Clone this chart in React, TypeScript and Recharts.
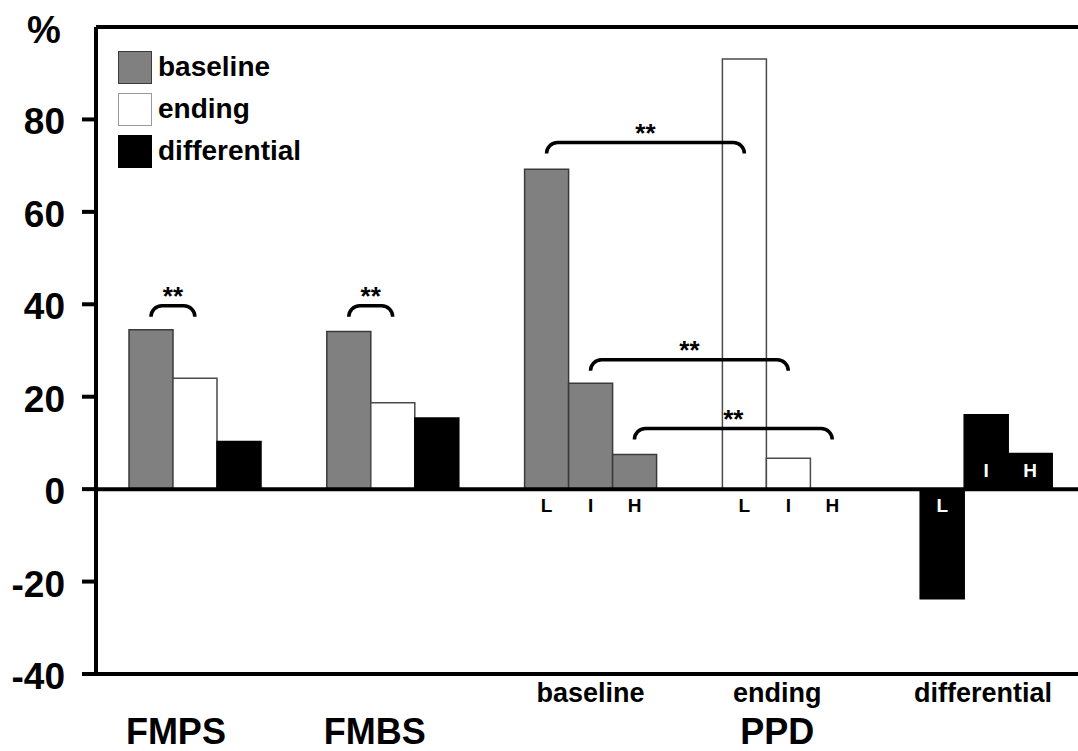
import React from 'react';
import { BarChart, Bar, XAxis, YAxis, Cell, ReferenceLine, LabelList, Legend } from 'recharts';

// one row per x-axis slot; PPD is split into baseline / ending / differential slots
const categories = ['FMPS', 'FMBS', 'PPD baseline', 'PPD ending', 'PPD differential'];
const groupKind = ['split', 'split', 'baseline', 'ending', 'differential'];
const firstBar = [34.5, 34.1, 69.2, 93.1, -23.7];
const secondBar = [24.0, 18.7, 22.9, 6.7, 16.1];
const thirdBar = [10.3, 15.4, 7.5, 0.1, 7.7];
const firstTag = ['', '', 'L', 'L', 'L'];
const secondTag = ['', '', 'I', 'I', 'I'];
const thirdTag = ['', '', 'H', 'H', 'H'];
const upperTick = ['', '', 'baseline', 'ending', 'differential'];
const lowerTick = ['FMPS', 'FMBS', '', 'PPD', ''];
const yTicks = [-40, -20, 0, 20, 40, 60, 80];
const seriesNames = ['baseline', 'ending', 'differential'];

// significance brackets: [slot, bar] -> [slot, bar] at height y (%)
const brackets = [
  { from: [0, 0], to: [0, 1], y: 39.7 },
  { from: [1, 0], to: [1, 1], y: 39.7 },
  { from: [2, 0], to: [3, 0], y: 75 },
  { from: [2, 1], to: [3, 1], y: 28 },
  { from: [2, 2], to: [3, 2], y: 13.1 },
];

const rows = categories.map((name, i) => ({
  name,
  a: firstBar[i],
  b: secondBar[i],
  c: thirdBar[i],
  row: i,
}));

const FONT = '"Liberation Sans", Arial, Helvetica, sans-serif';
const CHART_W = 1085;
const CHART_H = 751;
const AXIS_W = 96;
const GAP = 33;
const BAND = (CHART_W - AXIS_W) / categories.length;
const BAR_W = (BAND - 2 * GAP) / 3;
const TICK_SHIFT = [-19, -18, 0, -11, -3];

const FILL: Record<string, string> = { baseline: '#808080', ending: '#ffffff', differential: '#000000' };
const STROKE: Record<string, string> = { baseline: '#3a3a3a', ending: '#4a4a4a', differential: '#000000' };

const kindOf = (row: number, series: number) =>
  groupKind[row] === 'split' ? seriesNames[series] : groupKind[row];

const CategoryTick = (props: any) => {
  const { x, y, index } = props;
  const cx = x + TICK_SHIFT[index];
  return (
    <g>
      {upperTick[index] && (
        <text x={cx} y={y + 28} textAnchor="middle" fontSize={27} fontWeight="bold" fontFamily={FONT} fill="#000">
          {upperTick[index]}
        </text>
      )}
      {lowerTick[index] && (
        <text x={cx} y={y + 70} textAnchor="middle" fontSize={36} fontWeight="bold" fontFamily={FONT} fill="#000">
          {lowerTick[index]}
        </text>
      )}
    </g>
  );
};

const ValueTick = (props: any) => {
  const { x, y, payload } = props;
  return (
    <text x={x} y={y + 15} textAnchor="end" fontSize={37} fontWeight="bold" fontFamily={FONT} fill="#000">
      {payload.value}
    </text>
  );
};

const tagRenderer = (tags: string[]) => (props: any) => {
  const vb = props.viewBox ?? props;
  const { x, y, width, height } = vb;
  // locate the row from the bar's horizontal position
  const index = Math.floor((x + width / 2 - AXIS_W) / BAND);
  const tag = tags[index];
  if (!tag) return null;
  const value = Number(props.value);
  const zeroY = value < 0 ? Math.min(y, y + height) : Math.max(y, y + height);
  const inside = groupKind[index] === 'differential';
  const ty = inside && value > 0 ? zeroY - 12 : zeroY + 23;
  return (
    <text
      key={`tag-${index}`}
      x={x + width / 2}
      y={ty}
      textAnchor="middle"
      fontSize={19}
      fontWeight="bold"
      fontFamily={FONT}
      fill={inside ? '#fff' : '#000'}
    >
      {tag}
    </text>
  );
};

const Bracket = (props: any) => {
  const { x1, y1, x2, dx1, dx2 } = props;
  const a = x1 + dx1;
  const b = x2 + dx2;
  const r = 11;
  const d = `M${a},${y1 + r} A${r},${r} 0 0 1 ${a + r},${y1} L${b - r},${y1} A${r},${r} 0 0 1 ${b},${y1 + r}`;
  return (
    <g>
      <path d={d} fill="none" stroke="#000" strokeWidth={3.5} />
      <text x={(a + b) / 2} y={y1 - 1} textAnchor="middle" fontSize={26} fontWeight="bold" fontFamily={FONT} fill="#000">
        **
      </text>
    </g>
  );
};

const LegendBox = () => (
  <div style={{ fontFamily: FONT }}>
    {seriesNames.map((name, i) => (
      <div key={name} style={{ display: 'flex', alignItems: 'center', height: 42 }}>
        <span
          style={{
            display: 'inline-block',
            width: 34,
            height: 33,
            boxSizing: 'border-box',
            background: FILL[name],
            border: `1.5px solid ${i === 1 ? '#9a9a9a' : STROKE[name]}`,
          }}
        />
        <span style={{ marginLeft: 6, fontSize: 28, fontWeight: 'bold', color: '#000' }}>{name}</span>
      </div>
    ))}
  </div>
);

const PercentLabel = (props: any) => {
  const vb = props.viewBox || { x: 0, y: 27 };
  return (
    <text x={vb.x + 44} y={vb.y + 16} textAnchor="middle" fontSize={38} fontWeight="bold" fontFamily={FONT} fill="#000">
      %
    </text>
  );
};

export default function App() {
  const keys = ['a', 'b', 'c'];
  const tags = [firstTag, secondTag, thirdTag];
  return (
    <div
      style={{
        position: 'absolute',
        left: 0,
        top: 0,
        width: 1078,
        height: 751,
        overflow: 'hidden',
        background: '#fff',
        fontFamily: FONT,
      }}
    >
      <BarChart
        width={CHART_W}
        height={CHART_H}
        data={rows}
        margin={{ top: 27, right: 0, bottom: 0, left: 0 }}
        barCategoryGap={GAP}
        barGap={0}
      >
        <XAxis
          dataKey="name"
          height={77}
          interval={0}
          tickLine={false}
          tickSize={0}
          tickMargin={0}
          axisLine={{ stroke: '#000', strokeWidth: 4 }}
          tick={<CategoryTick />}
        />
        <YAxis
          width={AXIS_W}
          domain={[-40, 100]}
          ticks={yTicks}
          allowDataOverflow
          tickSize={14}
          tickMargin={17}
          axisLine={{ stroke: '#000', strokeWidth: 4 }}
          tickLine={{ stroke: '#000', strokeWidth: 4 }}
          tick={<ValueTick />}
          label={{ content: <PercentLabel /> }}
        />
        <Legend
          layout="vertical"
          align="center"
          verticalAlign="middle"
          wrapperStyle={{ left: 118, top: 46, width: 260, height: 130 }}
          content={<LegendBox />}
        />
        {keys.map((k, s) => (
          <Bar
            key={k}
            dataKey={k}
            name={seriesNames[s]}
            fill={FILL[seriesNames[s]]}
            stroke={STROKE[seriesNames[s]]}
            strokeWidth={1.5}
            isAnimationActive={false}
          >
            {rows.map((_, i) => (
              <Cell key={`c-${k}-${i}`} fill={FILL[kindOf(i, s)]} stroke={STROKE[kindOf(i, s)]} />
            ))}
            <LabelList dataKey={k} content={tagRenderer(tags[s])} />
          </Bar>
        ))}
        <ReferenceLine y={0} stroke="#000" strokeWidth={4} />
        <ReferenceLine y={100} stroke="#000" strokeWidth={4} />
        {brackets.map((b, i) => (
          <ReferenceLine
            key={`br-${i}`}
            segment={[
              { x: categories[b.from[0]], y: b.y },
              { x: categories[b.to[0]], y: b.y },
            ]}
            shape={(p: any) => (
              <Bracket {...p} dx1={(b.from[1] - 1) * BAR_W} dx2={(b.to[1] - 1) * BAR_W} />
            )}
          />
        ))}
      </BarChart>
    </div>
  );
}
